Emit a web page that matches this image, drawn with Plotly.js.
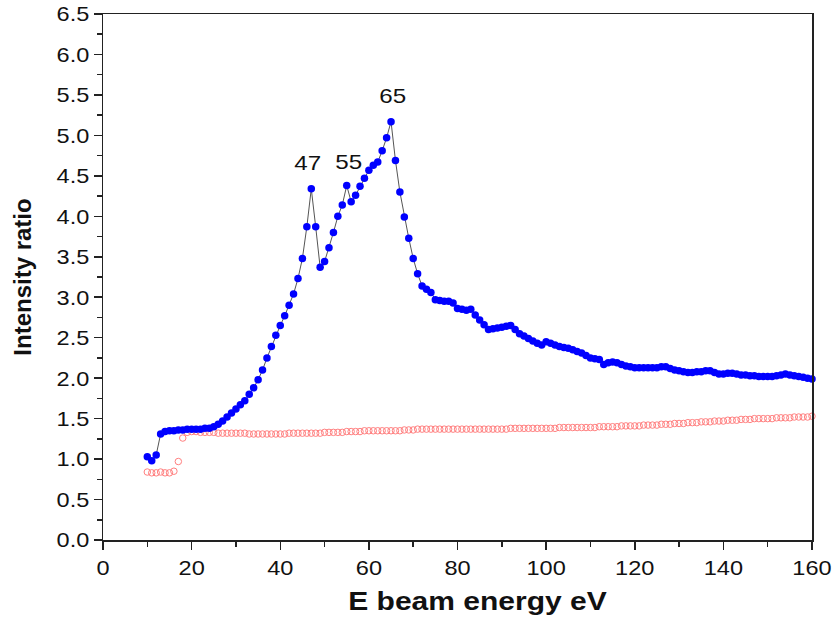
<!DOCTYPE html>
<html>
<head>
<meta charset="utf-8">
<script src="https://cdn.plot.ly/plotly-3.0.1.min.js"></script>
<style>html,body{margin:0;padding:0;background:#fff;}#chart{width:838px;height:622px;}</style>
</head>
<body>
<div id="chart"></div>
<script>
// Beam energy (eV)
var energy = [];
for (var e = 10; e <= 160; e++) energy.push(e);

// Blue series (filled circles), 10..160 eV
var blueRatio = [
  1.03,0.98,1.05,1.31,1.34,1.35,1.35,1.36,1.36,1.37, // 10-19
  1.37,1.37,1.37,1.38,1.38,1.40,1.43,1.47,1.52,1.57, // 20-29
  1.62,1.67,1.72,1.80,1.88,1.98,2.10,2.25,2.39,2.53, // 30-39
  2.65,2.77,2.90,3.04,3.23,3.48,3.87,4.34,3.87,3.37, // 40-49
  3.44,3.61,3.80,4.00,4.14,4.38,4.18,4.26,4.37,4.47, // 50-59
  4.57,4.63,4.67,4.81,4.97,5.17,4.69,4.30,3.99,3.73, // 60-69
  3.48,3.29,3.14,3.10,3.06,2.97,2.96,2.95,2.95,2.93, // 70-79
  2.86,2.85,2.84,2.85,2.78,2.72,2.66,2.60,2.61,2.62, // 80-89
  2.63,2.64,2.65,2.60,2.55,2.52,2.49,2.46,2.43,2.41, // 90-99
  2.45,2.43,2.41,2.39,2.38,2.37,2.35,2.33,2.31,2.28, // 100-109
  2.25,2.24,2.23,2.17,2.19,2.20,2.19,2.17,2.15,2.14, // 110-119
  2.13,2.13,2.13,2.13,2.13,2.13,2.14,2.14,2.12,2.10, // 120-129
  2.09,2.08,2.07,2.07,2.08,2.08,2.09,2.09,2.07,2.05, // 130-139
  2.05,2.06,2.06,2.05,2.04,2.04,2.03,2.03,2.02,2.02, // 140-149
  2.02,2.02,2.03,2.04,2.05,2.04,2.03,2.02,2.01,2.00, // 150-159
  1.99                                               // 160
];

// Red series (open circles), 10..160 eV
var redRatio = [
  0.84,0.83,0.83,0.84,0.83,0.83,0.85,0.97,1.26,1.33, // 10-19
  1.34,1.34,1.33,1.33,1.33,1.33,1.32,1.32,1.32,1.32, // 20-29
  1.32,1.32,1.32,1.31,1.31,1.31,1.31,1.31,1.31,1.31, // 30-39
  1.31,1.31,1.32,1.32,1.32,1.32,1.32,1.32,1.32,1.32, // 40-49
  1.33,1.33,1.33,1.33,1.33,1.34,1.34,1.34,1.34,1.35, // 50-59
  1.35,1.35,1.35,1.35,1.35,1.35,1.35,1.35,1.36,1.36, // 60-69
  1.36,1.37,1.37,1.37,1.37,1.37,1.37,1.37,1.37,1.37, // 70-79
  1.37,1.37,1.37,1.37,1.37,1.37,1.37,1.37,1.37,1.37, // 80-89
  1.37,1.37,1.38,1.38,1.38,1.38,1.38,1.38,1.38,1.38, // 90-99
  1.38,1.38,1.38,1.39,1.39,1.39,1.39,1.39,1.39,1.39, // 100-109
  1.39,1.39,1.40,1.40,1.40,1.40,1.40,1.41,1.41,1.41, // 110-119
  1.41,1.41,1.42,1.42,1.42,1.42,1.43,1.43,1.43,1.44, // 120-129
  1.44,1.44,1.45,1.45,1.45,1.46,1.46,1.46,1.47,1.47, // 130-139
  1.47,1.48,1.48,1.48,1.49,1.49,1.49,1.50,1.50,1.50, // 140-149
  1.50,1.50,1.51,1.51,1.51,1.51,1.52,1.52,1.52,1.52, // 150-159
  1.53                                               // 160
];

var peakLabels = ['47', '55', '65'];
var peakX = [46.2, 55.4, 65.4];
var peakY = [4.66, 4.68, 5.49];

var traces = [
  {
    x: energy, y: redRatio, type: 'scatter', mode: 'markers',
    marker: {symbol: 'circle-open', size: 6.5, color: '#ff7f7f', line: {width: 1, color: '#ff7f7f'}},
    showlegend: false, cliponaxis: false
  },
  {
    x: energy, y: blueRatio, type: 'scatter', mode: 'lines+markers',
    line: {color: '#555555', width: 1},
    marker: {symbol: 'circle', size: 7.5, color: '#0000ff'},
    showlegend: false, cliponaxis: false
  }
];

var annotations = peakLabels.map(function (t, i) {
  return {x: peakX[i], y: peakY[i], text: t, showarrow: false,
          font: {family: 'Liberation Sans, Arial, sans-serif', size: 21, color: '#111'}};
});

var layout = {
  width: 838, height: 622,
  margin: {l: 103, r: 26, t: 14, b: 82},
  paper_bgcolor: '#fff', plot_bgcolor: '#fff',
  font: {family: 'Liberation Sans, Arial, sans-serif', color: '#111'},
  showlegend: false,
  annotations: annotations,
  xaxis: {
    range: [0, 160], tick0: 0, dtick: 20, ticks: 'outside', ticklen: 8, tickwidth: 1.5, tickcolor: '#222',
    minor: {ticks: 'outside', ticklen: 5, dtick: 10, tickwidth: 1.5, tickcolor: '#222'},
    showline: true, linecolor: '#222', linewidth: 1.5, mirror: true,
    showgrid: false, zeroline: false,
    tickfont: {size: 21, color: '#111'},
    title: {text: 'E beam energy eV', font: {size: 25, color: '#111', weight: 'bold'}, standoff: 15}
  },
  yaxis: {
    range: [0, 6.5], tick0: 0, dtick: 0.5, tickformat: '.1f', ticks: 'outside', ticklen: 8, tickwidth: 1.5, tickcolor: '#222',
    minor: {ticks: 'outside', ticklen: 5, dtick: 0.25, tickwidth: 1.5, tickcolor: '#222'},
    showline: true, linecolor: '#222', linewidth: 1.5, mirror: true,
    showgrid: false, zeroline: false,
    tickfont: {size: 21, color: '#111'},
    title: {text: 'Intensity ratio', font: {size: 24, color: '#111', weight: 'bold'}, standoff: 21}
  }
};

function stretch(selector, factor) {
  document.querySelectorAll(selector).forEach(function (t) {
    var w = t.getComputedTextLength();
    if (w > 0) {
      t.setAttribute('textLength', (w * factor).toFixed(1));
      t.setAttribute('lengthAdjust', 'spacingAndGlyphs');
    }
  });
}

Plotly.newPlot('chart', traces, layout, {displayModeBar: false, staticPlot: true}).then(function () {
  stretch('.xtick text', 1.12);
  stretch('.ytick text', 1.12);
  stretch('.g-xtitle text', 1.2);
  stretch('.annotation-text', 1.15);
  document.querySelectorAll('.g-xtitle text').forEach(function (t) {
    var x = parseFloat(t.getAttribute('x'));
    t.setAttribute('x', (x + 20).toFixed(1));
  });
});
</script>
</body>
</html>
